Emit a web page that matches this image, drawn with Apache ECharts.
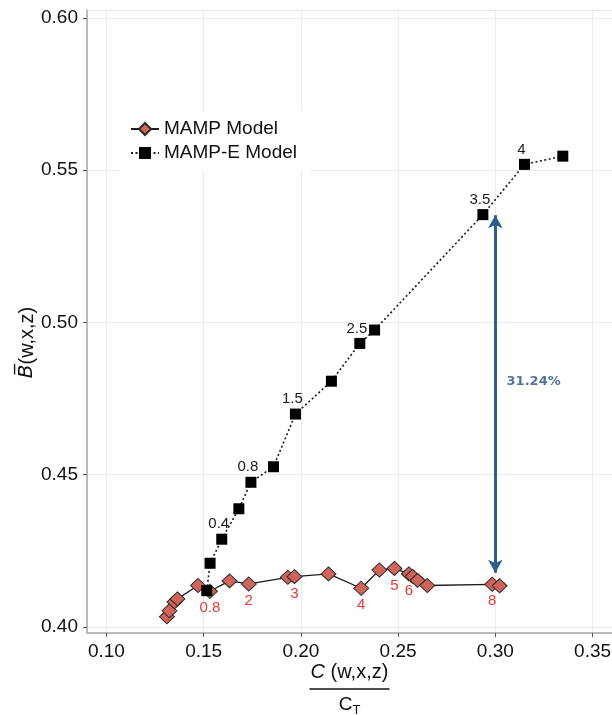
<!DOCTYPE html>
<html>
<head>
<meta charset="utf-8">
<script src="https://cdn.jsdelivr.net/npm/echarts@6/dist/echarts.min.js"></script>
<style>
  html, body { margin: 0; padding: 0; background: #fff; }
  #chart { width: 612px; height: 715px; }
</style>
</head>
<body>
<div id="chart"></div>
<script>
// MAMP Model (red diamonds, solid line)
const mampX = [0.1311, 0.1324, 0.1350, 0.1365, 0.1471, 0.1532, 0.1633, 0.1732, 0.1933, 0.1967,
               0.2142, 0.2310, 0.2404, 0.2481, 0.2555, 0.2574, 0.2600, 0.2650, 0.2984, 0.3022]
const mampY = [0.4033, 0.4053, 0.4082, 0.4092, 0.4136, 0.4117, 0.4151, 0.4141, 0.4163, 0.4165,
               0.4174, 0.4127, 0.4187, 0.4192, 0.4174, 0.4166, 0.4153, 0.4136, 0.4140, 0.4135]
const mampLabels = ['', '', '', '', '', '0.8', '', '2', '', '3',
                    '', '4', '', '5', '6', '', '', '', '8', '']

// MAMP-E Model (black squares, dotted line)
const extX = [0.1516, 0.1533, 0.1593, 0.1681, 0.1743, 0.1859, 0.1972, 0.2157, 0.2303, 0.2379,
              0.2936, 0.3150, 0.3347]
const extY = [0.4119, 0.4209, 0.4288, 0.4388, 0.4475, 0.4526, 0.4699, 0.4807, 0.4931, 0.4975,
              0.5354, 0.5519, 0.5546]
const extLabels = ['', '', '0.4', '', '0.8', '', '1.5', '', '2.5', '', '3.5', '4', '']

// gap arrow between the two models
const gapX = 0.300
const gapRange = [0.4178, 0.5352]
const gapText = '31.24%'
const gapTextPos = [0.3197, 0.4804]

const font = 'Liberation Sans, Arial, Helvetica, sans-serif'

const chart = echarts.init(document.getElementById('chart'))

const option = {
  backgroundColor: '#fff',
  animation: false,
  grid: { left: 87, right: 0, top: 10, bottom: 82, outerBoundsMode: 'none', containLabel: false },
  legend: {
    data: ['MAMP Model', 'MAMP-E Model'],
    orient: 'vertical',
    left: 120,
    top: 111,
    padding: [8, 14, 8, 10],
    backgroundColor: '#fff',
    itemWidth: 28,
    itemHeight: 15,
    itemGap: 4,
    textStyle: { fontFamily: font, fontSize: 19, color: '#111', lineHeight: 20 }
  },
  xAxis: {
    type: 'value',
    min: 0.09,
    max: 0.36,
    name: '{i|C}{n| (w,x,z)}\n{bar|\u00a0}\n{c|C}{sub|T}',
    nameLocation: 'middle',
    nameMoveOverlap: false,
    nameGap: 28,
    nameTextStyle: {
      rich: {
        i: { fontFamily: font, fontSize: 20, fontStyle: 'italic', color: '#111', lineHeight: 22 },
        n: { fontFamily: font, fontSize: 20, color: '#111', lineHeight: 22 },
        bar: { width: 80, height: 1.5, lineHeight: 12, fontSize: 1, backgroundColor: '#111' },
        c: { fontFamily: font, fontSize: 19, color: '#111', lineHeight: 20 },
        sub: { fontFamily: font, fontSize: 13, color: '#111', lineHeight: 20, padding: [10, 0, 0, 0] }
      }
    },
    axisLine: { show: true, lineStyle: { color: '#a8a8a8', width: 1.5 } },
    axisTick: { show: true, length: 4, lineStyle: { color: '#555' } },
    axisLabel: {
      showMinLabel: false,
      showMaxLabel: false,
      margin: 9,
      fontFamily: font,
      fontSize: 19,
      color: '#111',
      formatter: v => v.toFixed(2)
    },
    splitLine: { show: true, lineStyle: { color: '#ebebeb', width: 1 } }
  },
  yAxis: {
    type: 'value',
    min: 0.398,
    max: 0.6026,
    name: '{b|B\u0305}{n|(w,x,z)}',
    nameLocation: 'middle',
    nameMoveOverlap: false,
    nameGap: 50,
    nameTextStyle: {
      padding: [0, 42, 0, 0],
      rich: {
        b: { fontFamily: 'DejaVu Sans, sans-serif', fontSize: 20, fontStyle: 'italic', color: '#111' },
        n: { fontFamily: font, fontSize: 20, color: '#111' }
      }
    },
    axisLine: { show: true, lineStyle: { color: '#a8a8a8', width: 1.5 } },
    axisTick: { show: true, length: 4, lineStyle: { color: '#555' } },
    axisLabel: {
      showMinLabel: false,
      showMaxLabel: false,
      margin: 9,
      fontFamily: font,
      fontSize: 19,
      color: '#111',
      formatter: v => v.toFixed(2)
    },
    splitLine: { show: true, lineStyle: { color: '#ebebeb', width: 1 } }
  },
  series: [
    {
      name: 'MAMP Model',
      type: 'line',
      data: mampX.map((x, i) => [x, mampY[i]]),
      symbol: 'diamond',
      symbolSize: [15, 14],
      lineStyle: { color: '#1a1a1a', width: 1.3 },
      itemStyle: { color: '#D0635A', borderColor: '#2b2b2b', borderWidth: 1 },
      label: {
        show: true,
        position: 'bottom',
        distance: 2,
        fontFamily: font,
        fontSize: 15,
        color: '#E03A3A',
        formatter: p => mampLabels[p.dataIndex]
      },
      z: 2
    },
    {
      name: 'MAMP-E Model',
      type: 'line',
      data: extX.map((x, i) => [x, extY[i]]),
      symbol: 'rect',
      symbolSize: 11,
      lineStyle: { color: '#1a1a1a', width: 1.6, type: [2, 2.5] },
      itemStyle: { color: '#000' },
      label: {
        show: true,
        position: 'top',
        distance: 2,
        offset: [-3, 0],
        fontFamily: font,
        fontSize: 15,
        color: '#1a1a1a',
        formatter: p => extLabels[p.dataIndex]
      },
      z: 3
    },
    {
      name: 'gap',
      type: 'scatter',
      data: [gapTextPos],
      symbolSize: 0,
      silent: true,
      label: {
        show: true,
        position: 'inside',
        fontFamily: 'DejaVu Sans, sans-serif',
        fontWeight: 'bold',
        fontSize: 13,
        color: '#27507F',
        formatter: gapText
      },
      markLine: {
        silent: true,
        symbol: ['arrow', 'arrow'],
        symbolSize: [11, 13],
        label: { show: false },
        lineStyle: { color: '#2F5D8C', width: 3, type: 'solid' },
        data: [[{ coord: [gapX, gapRange[0]] }, { coord: [gapX, gapRange[1]] }]]
      },
      z: 4
    }
  ]
}

chart.setOption(option)
</script>
</body>
</html>
